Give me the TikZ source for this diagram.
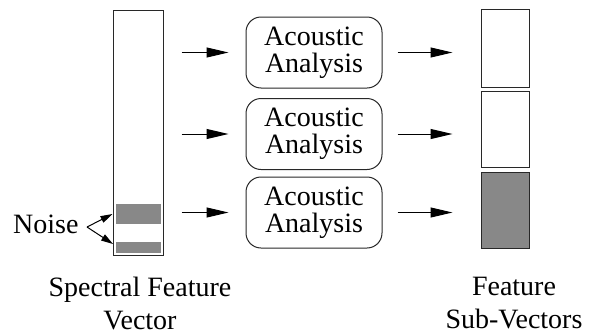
\documentclass[tikz,border=0pt]{standalone}
\usepackage{fontspec}
\setmainfont{Liberation Serif}
\usetikzlibrary{arrows.meta}
\definecolor{bandgray}{RGB}{136,136,136}
\definecolor{edge}{RGB}{40,40,40}
\tikzset{
  lbl/.style={inner sep=0pt, font=\fontsize{28}{33}\selectfont, align=center},
  bar/.style={draw=edge, line width=1pt, fill=white, inner sep=0pt},
  band/.style={fill=bandgray, inner sep=0pt},
  proc/.style={draw=edge, line width=1pt, rounded corners=15pt, minimum width=136pt,
               minimum height=71pt, inner sep=0pt, align=center,
               font=\fontsize{28}{27}\selectfont},
  flow/.style={line width=1pt, -{Triangle[length=22pt,width=10pt]}},
  noisearr/.style={line width=1pt, -{Triangle[length=12pt,width=7pt]}}
}
\begin{document}
\begin{tikzpicture}[x=1pt, y=-1pt]
  \useasboundingbox (0,0) rectangle (590,335);

  % spectral feature vector with its two noisy bands
  \node[bar, minimum width=50pt, minimum height=245pt] (spec) at (138,132.5) {};
  \node[band, minimum width=45pt, minimum height=20pt] (band1) at (138.5,214) {};
  \node[band, minimum width=45pt, minimum height=11pt] (band2) at (138.5,247.5) {};

  % acoustic analysis blocks
  \node[proc] (aa1) at (314,52.5) {Acoustic\\Analysis};
  \node[proc] (aa2) at (314,134) {Acoustic\\Analysis};
  \node[proc] (aa3) at (314,212.5) {Acoustic\\Analysis};

  % feature sub-vectors
  \node[bar, minimum width=48pt, minimum height=78pt] (sub1) at (505,48) {};
  \node[bar, minimum width=48pt, minimum height=76pt] (sub2) at (505,129) {};
  \node[bar, fill=bandgray, minimum width=48pt, minimum height=76pt] (sub3) at (505,210) {};

  % flow arrows
  \foreach \i in {1,2,3} {
    \draw[flow, shorten <=18pt, shorten >=17pt] (spec.east |- aa\i.west) -- (aa\i.west);
    \draw[flow, shorten <=15pt, shorten >=28pt] (aa\i.east) -- (aa\i.east -| sub\i.west);
  }

  % noise label
  \node[lbl, anchor=base west] (noise) at (13,233) {Noise};
  \coordinate (apex) at (87,227);
  \draw[noisearr] (apex) -- (spec.west |- band1);
  \draw[noisearr] (apex) -- (113,244);

  % captions (base anchor sits on the last line)
  \node[lbl, anchor=base] (speclbl) at (140,329) {Spectral Feature\\Vector};
  \node[lbl, anchor=base] (sublbl) at (514,328) {Feature\\Sub-Vectors};
\end{tikzpicture}
\end{document}
